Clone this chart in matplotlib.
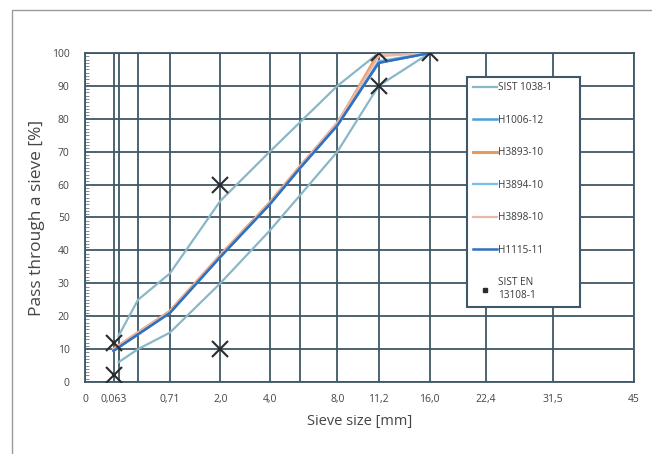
import numpy as np
import matplotlib
matplotlib.use("Agg")
import matplotlib.pyplot as plt
from matplotlib.lines import Line2D
from matplotlib.patches import Rectangle

plt.rcParams['font.family'] = ['Open Sans', 'DejaVu Sans']

# sieve sizes [mm] and passing [%]
sieves_lim = [0.09, 0.25, 0.71, 2.0, 4.0, 8.0, 11.2, 16.0]
sist_upper = [14, 25, 33, 55, 70, 90, 100, 100]
sist_lower = [6, 10, 15, 30, 46, 70, 90, 100]

sieves_mix = [0.063, 0.25, 0.71, 2.0, 4.0, 5.6, 8.0, 11.2, 16.0]
h1006_12 = [9.5, 14.5, 21, 38, 54, 65, 78, 97, 100]
h3893_10 = [10, 15, 21.5, 38.5, 54.5, 65.5, 78.5, 100, 100]
h3894_10 = [9.5, 14.5, 21, 38, 54, 65, 78, 97.5, 100]
h3898_10 = [10, 15, 21.5, 38.5, 54.5, 65.5, 79, 99, 100]
h1115_11 = [9.5, 14.5, 21, 38, 54, 65, 78, 97, 100]

# SIST EN 13108-1 limit points
en_x = [0.063, 0.063, 2.0, 2.0, 11.2, 11.2, 16.0]
en_y = [2, 12, 10, 60, 90, 100, 100]

tick_pos = [0, 0.063, 0.71, 2.0, 4.0, 8.0, 11.2, 16.0, 22.4, 31.5, 45]
tick_lab = ['0', '0,063', '0,71', '2,0', '4,0', '8,0', '11,2', '16,0', '22,4', '31,5', '45']
extra_grid = [0.09, 0.25, 5.6]

grid_col = '#3f5766'
txt_col = '#454545'
env_col = '#8ab7c8'

fig = plt.figure(figsize=(6.52, 4.54), dpi=100)
ax = fig.add_axes([0.1304, 0.1586, 0.842, 0.7247])

# grading chart: sieve size to the power 0.45
pw = 0.45
ax.set_xscale('function', functions=(lambda d: np.power(np.clip(d, 0, None), pw),
                                     lambda s: np.power(np.clip(s, 0, None), 1 / pw)))
ax.set_xlim(0, 45)
ax.set_ylim(0, 100)

ax.set_xticks(tick_pos)
ax.set_xticklabels(tick_lab)
ax.set_xticks(extra_grid, minor=True)
ax.set_yticks(np.arange(0, 101, 10))
ax.set_yticks(np.arange(0, 101, 1), minor=True)

ax.grid(True, which='major', color=grid_col, lw=1.3)
ax.grid(True, which='minor', axis='x', color=grid_col, lw=1.3)
ax.tick_params(axis='both', which='major', length=0, labelsize=7.5, colors=txt_col)
ax.tick_params(axis='x', which='major', pad=9)
ax.tick_params(axis='y', which='major', pad=11)
ax.tick_params(axis='x', which='minor', length=0)
ax.tick_params(axis='y', which='minor', direction='in', length=3, width=0.6, color='#6a7c86')
for s in ax.spines.values():
    s.set_color(grid_col)
    s.set_linewidth(1.3)

ax.plot(sieves_lim, sist_upper, color=env_col, lw=1.6, zorder=3, label='SIST 1038-1')
ax.plot(sieves_lim, sist_lower, color=env_col, lw=1.6, zorder=3)

ax.plot(sieves_mix, h1006_12, color='#4a9fd6', lw=1.8, zorder=4, label='H1006-12')
ax.plot(sieves_mix, h3893_10, color='#e89a5c', lw=2.2, zorder=4, label='H3893-10')
ax.plot(sieves_mix, h3894_10, color='#74bfe8', lw=1.6, zorder=4, label='H3894-10')
ax.plot(sieves_mix, h3898_10, color='#ebb7a9', lw=1.6, zorder=4, label='H3898-10')
ax.plot(sieves_mix, h1115_11, color='#3070c0', lw=1.8, zorder=5, label='H1115-11')

ax.plot(en_x, en_y, ls='none', marker='x', ms=11, mew=1.5, color='#2b2b2b', zorder=6)

handles, labels = ax.get_legend_handles_labels()
handles.append(Line2D([], [], ls='none', marker='s', ms=3, color='#2b2b2b'))
labels.append('SIST EN\n13108-1')
leg = ax.legend(handles, labels, loc='upper left', bbox_to_anchor=(0.696, 0.927, 0.206, 0.0),
                mode='expand', fontsize=7.2, labelspacing=2.15, handlelength=2.4,
                handletextpad=0.1, borderpad=0.55, frameon=True, fancybox=False,
                framealpha=1, edgecolor=grid_col, borderaxespad=0)
leg.get_frame().set_linewidth(1.5)
leg.set_zorder(10)
for t in leg.get_texts():
    t.set_color('#3a3a3a')

ax.set_xlabel('Sieve size [mm]', fontsize=10.5, color=txt_col, labelpad=6)
ax.set_ylabel('Pass through a sieve [%]', fontsize=12.5, color=txt_col, labelpad=5)

# outer frame
fig.patches.append(Rectangle((12 / 652, -0.1), 1.2, 1 - 10 / 454 + 0.1,
                             transform=fig.transFigure, fill=False,
                             edgecolor='#9a9a9a', lw=1.0))

fig.savefig('out.png', dpi=100)
